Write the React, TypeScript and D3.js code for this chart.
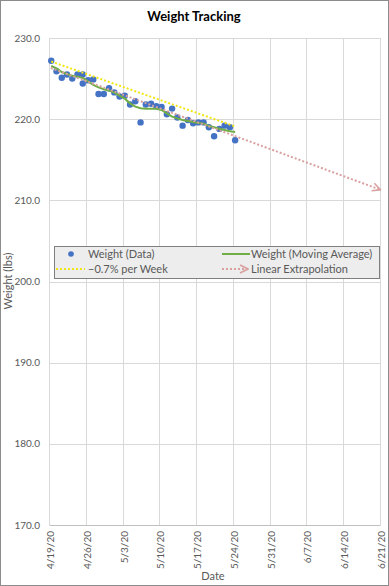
import { useEffect, useRef } from 'react';
import * as d3 from 'd3';

// weigh-in dates (two readings on 4/25)
const weighDates = [
  '2020-04-19', '2020-04-20', '2020-04-21', '2020-04-22', '2020-04-23', '2020-04-24',
  '2020-04-25', '2020-04-25', '2020-04-26', '2020-04-27', '2020-04-28', '2020-04-29',
  '2020-04-30', '2020-05-01', '2020-05-02', '2020-05-03', '2020-05-04', '2020-05-05',
  '2020-05-06', '2020-05-07', '2020-05-08', '2020-05-09', '2020-05-10', '2020-05-11',
  '2020-05-12', '2020-05-13', '2020-05-14', '2020-05-15', '2020-05-16', '2020-05-17',
  '2020-05-18', '2020-05-19', '2020-05-20', '2020-05-21', '2020-05-22', '2020-05-23',
  '2020-05-24',
];
const weights = [
  227.2, 225.9, 225.1, 225.5, 225.0, 225.5, 225.5, 224.4, 224.8, 224.9, 223.1, 223.1,
  223.8, 223.3, 222.8, 222.9, 221.8, 222.2, 219.6, 221.8, 221.9, 221.6, 221.5, 220.6,
  221.3, 220.2, 219.2, 219.9, 219.5, 219.6, 219.6, 219.0, 217.9, 218.8, 219.2, 219.0,
  217.4,
];

const avgDates = weighDates.filter((d, i) => weighDates.indexOf(d) === i);
const avgWeights = [
  226.55, 226.26, 225.81, 225.56, 225.36, 225.24, 225.07, 224.66, 224.21, 223.92, 223.68,
  223.51, 223.27, 222.9, 222.53, 221.95, 221.54, 221.34, 221.29, 221.29, 221.29, 221.13,
  220.72, 220.31, 220.1, 219.9, 219.77, 219.65, 219.53, 219.45, 219.16, 219.0, 218.83,
  218.67, 218.5, 218.42,
];

const goalDates = ['2020-04-19', '2020-05-24'];
const goalWeights = [227.1, 219.1];

const extrapDates = ['2020-04-19', '2020-06-21'];
const extrapWeights = [226.3, 211.3];

const xTickLabels = ['4/19/20', '4/26/20', '5/3/20', '5/10/20', '5/17/20', '5/24/20', '5/31/20', '6/7/20', '6/14/20', '6/21/20'];
const yTicks = [170, 180, 190, 200, 210, 220, 230];

const legendItems = [
  { label: 'Weight (Data)', kind: 'dot' },
  { label: 'Weight (Moving Average)', kind: 'avg' },
  { label: '\u22120.7% per Week', kind: 'goal' },
  { label: 'Linear Extrapolation', kind: 'extrap' },
];

const FONT = 'Lato, "Open Sans", sans-serif';
const BLUE = '#4472c4';
const GREEN = '#70ad47';
const YELLOW = '#f0e614';
const PINK = '#d9a0a0';

export default function App() {
  const svgRef = useRef<SVGSVGElement>(null);
  const width = 389;
  const height = 586;

  useEffect(() => {
    if (!svgRef.current) return;
    const svg = d3.select(svgRef.current);
    svg.selectAll('*').remove();

    const parseDay = d3.timeParse('%Y-%m-%d');
    const atTime = (s: string, h: number) => d3.timeHour.offset(parseDay(s)!, h);
    const parseTick = d3.timeParse('%m/%d/%y');

    const x = d3
      .scaleTime()
      .domain([parseDay('2020-04-19')!, parseDay('2020-06-21')!])
      .range([49.5, 380.5]);
    const y = d3.scaleLinear().domain([170, 230]).range([525, 38]);

    // outer frame
    svg.append('rect')
      .attr('x', 0.5).attr('y', 0.5)
      .attr('width', width - 1).attr('height', height - 1)
      .attr('fill', 'white')
      .attr('stroke', '#8c8c8c');

    // title
    svg.append('text')
      .attr('x', 194).attr('y', 21)
      .attr('text-anchor', 'middle')
      .attr('font-family', FONT)
      .attr('font-size', '13px')
      .attr('font-weight', 'bold')
      .attr('fill', '#000')
      .text('Weight Tracking');

    // horizontal gridlines + y labels
    yTicks.forEach((t) => {
      svg.append('line')
        .attr('x1', 49.5).attr('x2', 380.5)
        .attr('y1', Math.round(y(t)) + 0.5).attr('y2', Math.round(y(t)) + 0.5)
        .attr('stroke', t === 170 ? '#bfbfbf' : '#d9d9d9');
      svg.append('text')
        .attr('x', 40).attr('y', y(t))
        .attr('dy', '0.35em')
        .attr('text-anchor', 'end')
        .attr('font-family', FONT)
        .attr('font-size', '10px')
        .attr('fill', '#595959')
        .text(d3.format('.1f')(t));
    });

    // vertical gridlines + rotated date labels
    xTickLabels.forEach((lab) => {
      const xp = Math.round(x(parseTick(lab)!) - 0.5) + 0.5;
      svg.append('line')
        .attr('x1', xp).attr('x2', xp)
        .attr('y1', 38).attr('y2', 525)
        .attr('stroke', '#d9d9d9');
      svg.append('text')
        .attr('transform', `translate(${xp + 1},531) rotate(-90)`)
        .attr('dy', '0.35em')
        .attr('text-anchor', 'end')
        .attr('font-family', FONT)
        .attr('font-size', '10px')
        .attr('fill', '#595959')
        .text(lab);
    });

    // axis titles
    svg.append('text')
      .attr('x', 213).attr('y', 580)
      .attr('text-anchor', 'middle')
      .attr('font-family', FONT)
      .attr('font-size', '11px')
      .attr('fill', '#595959')
      .text('Date');

    svg.append('text')
      .attr('transform', 'translate(12,281) rotate(-90)')
      .attr('text-anchor', 'middle')
      .attr('font-family', FONT)
      .attr('font-size', '11px')
      .attr('fill', '#595959')
      .text('Weight (lbs)');

    // arrow marker for extrapolation
    const defs = svg.append('defs');
    defs.append('marker')
      .attr('id', 'arrow')
      .attr('viewBox', '0 0 10 10')
      .attr('refX', 9).attr('refY', 5)
      .attr('markerWidth', 5).attr('markerHeight', 5)
      .attr('orient', 'auto')
      .attr('markerUnits', 'strokeWidth')
      .append('path')
      .attr('d', 'M1,1 L9,5 L1,9')
      .attr('fill', 'none')
      .attr('stroke', PINK)
      .attr('stroke-width', 1.6);

    const line = d3
      .line<[Date, number]>()
      .x((d) => x(d[0]))
      .y((d) => y(d[1]));

    // data points
    const pts = weighDates.map((d, i) => [atTime(d, 8), weights[i]] as [Date, number]);
    svg.append('g')
      .selectAll('circle')
      .data(pts)
      .join('circle')
      .attr('cx', (d) => x(d[0]))
      .attr('cy', (d) => y(d[1]))
      .attr('r', 3.2)
      .attr('fill', BLUE);

    // moving average
    svg.append('path')
      .datum(avgDates.map((d, i) => [atTime(d, 8), avgWeights[i]] as [Date, number]))
      .attr('d', line)
      .attr('fill', 'none')
      .attr('stroke', GREEN)
      .attr('stroke-width', 2);

    // -0.7% per week
    svg.append('path')
      .datum(goalDates.map((d, i) => [atTime(d, 8), goalWeights[i]] as [Date, number]))
      .attr('d', line)
      .attr('fill', 'none')
      .attr('stroke', YELLOW)
      .attr('stroke-width', 2)
      .attr('stroke-dasharray', '2,2');

    // linear extrapolation
    svg.append('path')
      .datum(extrapDates.map((d, i) => [atTime(d, i === 0 ? 6 : 0), extrapWeights[i]] as [Date, number]))
      .attr('d', line)
      .attr('fill', 'none')
      .attr('stroke', PINK)
      .attr('stroke-width', 2)
      .attr('stroke-dasharray', '2,2')
      .attr('marker-end', 'url(#arrow)');

    // legend
    const legend = svg.append('g');
    legend.append('rect')
      .attr('x', 54.5).attr('y', 246.5)
      .attr('width', 325).attr('height', 32)
      .attr('fill', '#ededed')
      .attr('stroke', '#7f7f7f');

    legendItems.forEach((item, i) => {
      const col = i % 2;
      const row = Math.floor(i / 2);
      const sx = col === 0 ? 56 : 222;
      const tx = col === 0 ? 88 : 251;
      const ly = 254 + row * 15;
      if (item.kind === 'dot') {
        legend.append('circle').attr('cx', 71).attr('cy', ly).attr('r', 2.8).attr('fill', BLUE);
      } else if (item.kind === 'avg') {
        legend.append('line')
          .attr('x1', sx).attr('x2', sx + 28).attr('y1', ly).attr('y2', ly)
          .attr('stroke', GREEN).attr('stroke-width', 2);
      } else if (item.kind === 'goal') {
        legend.append('line')
          .attr('x1', sx).attr('x2', sx + 29).attr('y1', ly).attr('y2', ly)
          .attr('stroke', YELLOW).attr('stroke-width', 2)
          .attr('stroke-dasharray', '2,2');
      } else {
        legend.append('line')
          .attr('x1', sx).attr('x2', sx + 26).attr('y1', ly).attr('y2', ly)
          .attr('stroke', PINK).attr('stroke-width', 2)
          .attr('stroke-dasharray', '2,2')
          .attr('marker-end', 'url(#arrow)');
      }
      legend.append('text')
        .attr('x', tx).attr('y', ly)
        .attr('dy', '0.35em')
        .attr('font-family', FONT)
        .attr('font-size', '11px')
        .attr('fill', '#595959')
        .text(item.label);
    });
  }, []);

  return (
    <svg
      ref={svgRef}
      width={width}
      height={height}
      style={{ position: 'absolute', left: 0, top: 0, display: 'block' }}
    />
  );
}
